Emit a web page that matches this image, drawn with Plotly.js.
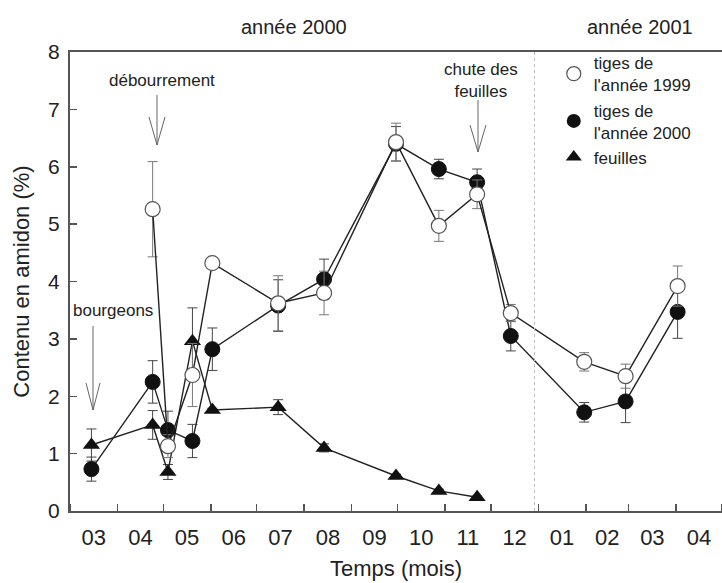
<!DOCTYPE html>
<html>
<head>
<meta charset="utf-8">
<script src="https://cdn.plot.ly/plotly-3.0.1.min.js"></script>
<style>html,body{margin:0;padding:0;background:#fff;}#chart{width:722px;height:583px;}</style>
</head>
<body>
<div id="chart"></div>
<script>
// Sampling dates (x) and values
const datesFilled = ['2000-03-15','2000-04-24','2000-05-04','2000-05-20','2000-06-02','2000-07-15','2000-08-14','2000-09-30','2000-10-28','2000-11-22','2000-12-14','2001-01-31','2001-02-27','2001-04-02'];
const tiges2000 = [0.73, 2.25, 1.41, 1.22, 2.82, 3.58, 4.04, 6.40, 5.96, 5.73, 3.05, 1.72, 1.91, 3.47];
const tiges2000Err = [0.21, 0.37, 0.33, 0.29, 0.37, 0.45, 0.35, 0.30, 0.17, 0.23, 0.26, 0.17, 0.37, 0.46];

const datesOpen = ['2000-04-24','2000-05-04','2000-05-20','2000-06-02','2000-07-15','2000-08-14','2000-09-30','2000-10-28','2000-11-22','2000-12-14','2001-01-31','2001-02-27','2001-04-02'];
const tiges1999 = [5.26, 1.13, 2.37, 4.32, 3.62, 3.80, 6.43, 4.97, 5.52, 3.45, 2.60, 2.35, 3.92];
const tiges1999Err = [0.83, 0.20, 0.55, 0.0, 0.48, 0.38, 0.33, 0.27, 0.25, 0.15, 0.16, 0.21, 0.35];

const datesLeaves = ['2000-03-15','2000-04-24','2000-05-04','2000-05-20','2000-06-02','2000-07-15','2000-08-14','2000-09-30','2000-10-28','2000-11-22'];
const feuilles = [1.15, 1.50, 0.68, 2.96, 1.76, 1.81, 1.10, 0.61, 0.35, 0.24];
const feuillesErr = [0.28, 0.25, 0.13, 0.58, 0.03, 0.13, 0.07, 0.03, 0.03, 0.02];

const legendNames = ["tiges de<br>l'année 1999", "tiges de<br>l'année 2000", "feuilles"];
const yearLabels = ['année 2000', 'année 2001'];
const xTitle = 'Temps (mois)';
const yTitle = 'Contenu en amidon (%)';

const FONT = 'Liberation Sans, Arial, sans-serif';
const lineCol = '#222';

const traces = [
  {x: datesLeaves, y: feuilles, type: 'scatter', mode: 'lines+markers', showlegend: false,
   line: {color: lineCol, width: 1.4},
   marker: {symbol: 'triangle-up', size: 15, color: '#111'},
   error_y: {type: 'data', array: feuillesErr, visible: true, color: '#444', thickness: 1, width: 5}},
  {x: datesFilled, y: tiges2000, type: 'scatter', mode: 'lines+markers', showlegend: false,
   line: {color: lineCol, width: 1.4},
   marker: {symbol: 'circle', size: 15, color: '#111', line: {color: '#111', width: 1}},
   error_y: {type: 'data', array: tiges2000Err, visible: true, color: '#444', thickness: 1, width: 5}},
  {x: datesOpen, y: tiges1999, type: 'scatter', mode: 'lines+markers', showlegend: false,
   line: {color: lineCol, width: 1.4},
   marker: {symbol: 'circle', size: 15, color: '#fff', line: {color: '#555', width: 1.2}},
   error_y: {type: 'data', array: tiges1999Err, visible: true, color: '#777', thickness: 1, width: 5}},
  // legend-only entries (markers only)
  {x: [null], y: [null], type: 'scatter', mode: 'markers', name: legendNames[0],
   marker: {symbol: 'circle', size: 14, color: '#fff', line: {color: '#555', width: 1.2}}},
  {x: [null], y: [null], type: 'scatter', mode: 'markers', name: legendNames[1],
   marker: {symbol: 'circle', size: 14, color: '#111'}},
  {x: [null], y: [null], type: 'scatter', mode: 'markers', name: legendNames[2],
   marker: {symbol: 'triangle-up', size: 14, color: '#111'}}
];

function px(x){ return (x-70)/652; }
function py(y){ return (511-y)/459; }
function arrow(x, yTop, yTip, yArm, half){
  const s = {type:'line', xref:'paper', yref:'paper', line:{color:'#666', width:1}};
  return [
    Object.assign({}, s, {x0:px(x), x1:px(x), y0:py(yTop), y1:py(yTip)}),
    Object.assign({}, s, {x0:px(x-half), x1:px(x), y0:py(yArm), y1:py(yTip)}),
    Object.assign({}, s, {x0:px(x+half), x1:px(x), y0:py(yArm), y1:py(yTip)})
  ];
}

const shapes = [].concat(
  arrow(157, 95, 145, 117, 8),
  arrow(93, 326, 410, 383, 7),
  arrow(478, 100, 152, 125, 8),
  [{type:'line', xref:'paper', yref:'paper', x0:px(534.5), x1:px(534.5), y0:0, y1:1,
    line:{color:'#bbb', width:1, dash:'dot'}}]
);

const annFont = {family: FONT, size: 17, color: '#222'};
function ann(text, x, y, font){
  return {text: text, xref:'paper', yref:'paper', x: px(x), y: py(y), xanchor:'center', yanchor:'middle',
          showarrow:false, font: font || annFont};
}
const yearFont = {family: FONT, size: 20, color: '#222'};
const annotations = [
  ann('débourrement', 162, 80),
  ann('bourgeons', 113, 310),
  ann('chute des<br>feuilles', 481, 81),
  ann(yearLabels[0], 294, 27, yearFont),
  ann(yearLabels[1], 640, 27, yearFont)
];

const layout = {
  width: 722, height: 583,
  margin: {l: 70, r: 0, t: 52, b: 72},
  paper_bgcolor: '#fff', plot_bgcolor: '#fff',
  font: {family: FONT, color: '#222'},
  showlegend: true,
  legend: {x: 0.742, y: 1.015, xanchor: 'left', yanchor: 'top', bgcolor: 'rgba(0,0,0,0)',
           font: {family: FONT, size: 17, color: '#222'}, tracegroupgap: 0},
  xaxis: {
    type: 'date', range: ['2000-03-01', '2001-05-01'],
    tick0: '2000-03-01', dtick: 'M1', tickformat: '%m', ticklabelmode: 'period',
    ticks: 'inside', ticklen: 7, tickcolor: '#555', tickwidth: 1.5,
    showline: true, linecolor: '#555', linewidth: 2, mirror: true,
    showgrid: false, zeroline: false, ticklabelstandoff: 6,
    tickfont: {family: FONT, size: 22, color: '#222'},
    title: {text: xTitle, font: {family: FONT, size: 22, color: '#222'}, standoff: 11}
  },
  yaxis: {
    range: [0, 8], dtick: 1, tick0: 0,
    ticks: 'inside', ticklen: 7, tickcolor: '#555', tickwidth: 1.5,
    showline: true, linecolor: '#555', linewidth: 2,
    showgrid: false, zeroline: false, ticklabelstandoff: 4,
    tickfont: {family: FONT, size: 21, color: '#222'},
    title: {text: yTitle, font: {family: FONT, size: 22, color: '#222'}, standoff: 12}
  },
  shapes: shapes,
  annotations: annotations
};

Plotly.newPlot('chart', traces, layout, {displayModeBar: false, staticPlot: true});
</script>
</body>
</html>
